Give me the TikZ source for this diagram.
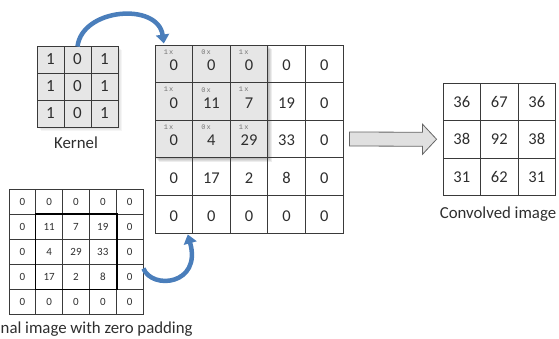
\documentclass[tikz,border=0pt]{standalone}
\usepackage{fontspec}
\setmainfont{Carlito}
\newfontfamily\smallmono{Liberation Mono}
\usetikzlibrary{arrows.meta,calc}
\definecolor{cellgray}{HTML}{E6E6E6}
\definecolor{linegray}{HTML}{3A3A3A}
\definecolor{arrblue}{HTML}{4A7EBB}
\definecolor{txt}{HTML}{2E2E2E}
\begin{document}
\begin{tikzpicture}[x=1pt,y=-1pt,
  kcell/.style={draw=linegray,line width=0.9pt,fill=cellgray,minimum width=27pt,minimum height=27pt,inner sep=0pt,text height=11pt,text depth=0pt,font=\fontsize{17}{17}\selectfont,text=txt},
  bcell/.style={draw=linegray,line width=0.9pt,minimum width=37.6pt,minimum height=37.6pt,inner sep=0pt,text height=14pt,text depth=0pt,font=\fontsize{16.5}{17}\selectfont,text=txt},
  scell/.style={draw=linegray,line width=0.8pt,minimum width=26.8pt,minimum height=25pt,inner sep=0pt,font=\fontsize{11}{11}\selectfont,text=txt},
  ocell/.style={draw=linegray,line width=0.9pt,minimum width=37.5pt,minimum height=37.5pt,inner sep=0pt,font=\fontsize{16.5}{17}\selectfont,text=txt},
  wlab/.style={inner sep=0pt,anchor=north west,font=\smallmono\fontsize{7}{7}\selectfont,text=black!55},
  lbl/.style={inner sep=0pt,font=\fontsize{16.8}{17}\selectfont,text=txt},
  bluearrow/.style={draw=arrblue,line width=4.5pt,-{Triangle[width=13pt,length=9pt]}},
  blockarrow/.style={draw=black!60,line width=0.8pt,fill=black!12}
]
\useasboundingbox (0,0) rectangle (559,339);
% shadows
\foreach \i in {1,...,4}{
  \fill[black,opacity=0.07] (155+\i,45+\i) rectangle (267.8+\i,157.8+\i);
  \fill[black,opacity=0.04] (37+\i,46+\i) rectangle (118+\i,127+\i);
}
% kernel
\foreach \r in {1,2,3}{
  \foreach \cc/\v in {1/1,2/0,3/1}{
    \node[kcell] (k-\r-\cc) at ({37+27*(\cc-0.5)},{46+27*(\r-0.5)}) {\v};
  }
}
\node[lbl] (klab) at (76,143) {Kernel};
% big padded grid
\foreach \r/\va/\vb/\vc/\vd/\ve in {1/0/0/0/0/0,2/0/11/7/19/0,3/0/4/29/33/0,4/0/17/2/8/0,5/0/0/0/0/0}{
  \foreach \cc/\v in {1/\va,2/\vb,3/\vc,4/\vd,5/\ve}{
    \pgfmathtruncatemacro\fc{(\r<4)*(\cc<4)}
    \ifnum\fc=1
      \node[bcell,fill=cellgray] (b-\r-\cc) at ({155+37.6*(\cc-0.5)},{45+37.6*(\r-0.5)}) {\v};
    \else
      \node[bcell] (b-\r-\cc) at ({155+37.6*(\cc-0.5)},{45+37.6*(\r-0.5)}) {\v};
    \fi
  }
}
\foreach \r in {1,2,3}{
  \foreach \cc/\w in {1/1,2/0,3/1}{
    \node[wlab] (w-\r-\cc) at ($(b-\r-\cc.north west)+(9,5)$) {\w\,x};
  }
}
% small original grid
\foreach \r/\va/\vb/\vc/\vd/\ve in {1/0/0/0/0/0,2/0/11/7/19/0,3/0/4/29/33/0,4/0/17/2/8/0,5/0/0/0/0/0}{
  \foreach \cc/\v in {1/\va,2/\vb,3/\vc,4/\vd,5/\ve}{
    \node[scell] (s-\r-\cc) at ({9+26.8*(\cc-0.5)},{189+25*(\r-0.5)}) {\v};
  }
}
\draw[black,line width=1.8pt] (s-2-2.north west) rectangle (s-4-4.south east);
\node[lbl,anchor=west] (slab) at (0.5,329) {nal image with zero padding};
% output grid
\foreach \r/\va/\vb/\vc in {1/36/67/36,2/38/92/38,3/31/62/31}{
  \foreach \cc/\v in {1/\va,2/\vb,3/\vc}{
    \node[ocell] (o-\r-\cc) at ({443+37.5*(\cc-0.5)},{83+37.5*(\r-0.5)}) {\v};
  }
}
\node[lbl] (olab) at (498,214) {Convolved image};
% block arrow
\coordinate (as) at ([xshift=6pt]b-3-5.east);
\coordinate (ae) at ([xshift=-6pt]o-2-1.west);
\draw[blockarrow] ($(as)+(0,-7)$) -- ($(ae)+(-14,-7)$) -- ($(ae)+(-14,-15)$) -- (ae)
  -- ($(ae)+(-14,15)$) -- ($(ae)+(-14,7)$) -- ($(as)+(0,7)$) -- cycle;
% blue curved arrows
\draw[bluearrow] ([yshift=-1pt]k-1-2.north) .. controls (82,8) and (158,2) .. ([xshift=-10pt,yshift=1pt]b-1-1.north);
\draw[bluearrow] ([yshift=8pt]s-4-5.east) .. controls (152,290) and (202,285) .. ([xshift=14pt,yshift=-1pt]b-5-1.south);
\end{tikzpicture}
\end{document}
